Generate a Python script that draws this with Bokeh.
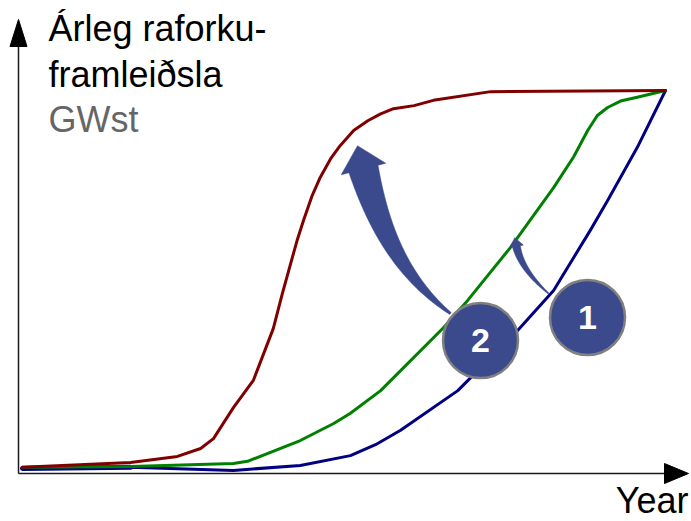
import numpy as np
from bokeh.plotting import figure
from bokeh.models import Range1d
from bokeh.core.properties import value
from bokeh.embed import file_html
from bokeh.resources import INLINE

# ---------------- data (schematic: year 0..100, production 0..100 %) ----------------
red_year = [0, 16.8, 24.1, 27.7, 29.7, 32.8, 35.9, 39.0, 40.4, 41.7, 42.7, 43.7, 45.05, 46.3,
            47.9, 49.4, 51.5, 53.7, 55.7, 57.7, 60.9, 63.9, 72.8, 100]
red_gwst = [0.3, 1.6, 3.2, 5.3, 7.9, 16.1, 23.3, 37.0, 46.2, 54.2, 60.3, 65.6, 72.2, 77.0,
            81.9, 85.4, 89.4, 92.0, 93.8, 95.2, 96.0, 97.4, 99.7, 100]

green_year = [0, 16.8, 32.8, 35.0, 43.2, 48.4, 51.0, 55.7, 65.5, 69.2, 75.9, 82.6, 85.7,
              87.9, 89.4, 91.0, 93.0, 95.6, 100]
green_gwst = [0.3, 0.5, 1.3, 1.9, 7.4, 11.9, 14.6, 20.6, 37.3, 44.4, 58.5, 74.3, 82.4,
              89.4, 93.4, 95.5, 97.2, 98.2, 100]

blue_year = [0, 16.8, 32.8, 43.2, 51.0, 54.9, 58.8, 67.7, 77.0, 82.6, 88.3, 91.0, 95.6, 100]
blue_gwst = [0, 0.3, -0.5, 0.8, 3.4, 6.3, 10.1, 20.6, 36.5, 47.1, 63.0, 70.9, 84.9, 100]

step_labels = ["1", "2"]
step_year = [87.87, 71.23]
step_gwst = [39.95, 33.86]

title_lines = ["Árleg raforku-", "framleiðsla"]
unit_label = "GWst"
x_label = "Year"

# ---------------- figure ----------------
W, H = 691, 521
SX, SY = 6.43, 3.78               # pixels per data unit
X0 = -22 / SX
X1 = X0 + W / SX
Y1 = 100 + 90 / SY
Y0 = Y1 - H / SY

p = figure(width=W, height=H, x_range=Range1d(X0, X1), y_range=Range1d(Y0, Y1),
           output_backend="svg", toolbar_location=None, min_border=0,
           x_axis_location=None, y_axis_location=None)
p.grid.visible = False
p.outline_line_color = None
p.background_fill_color = "white"
p.border_fill_color = "white"

FONT = value("Liberation Sans")


def px_t(px):
    return X0 + px / SX


def px_v(py):
    return Y1 - py / SY


def to_px(t, v):
    return np.array([t * SX, -v * SY], dtype=float)


def to_data(pts):
    pts = np.asarray(pts, dtype=float)
    return list(pts[:, 0] / SX), list(-pts[:, 1] / SY)


def unit(v):
    v = np.asarray(v, dtype=float)
    return v / np.hypot(*v)


def curved_arrow(start, end, d0, d1, a, b, w0, w1, hw, hl):
    P0 = to_px(*start)
    P3 = to_px(*end)
    d0 = unit(d0)
    d1 = unit(d1)
    P1 = P0 + a * d0
    P2 = P3 - b * d1
    s = np.linspace(0, 1, 80)[:, None]
    B = (1 - s) ** 3 * P0 + 3 * (1 - s) ** 2 * s * P1 + 3 * (1 - s) * s ** 2 * P2 + s ** 3 * P3
    dB = 3 * (1 - s) ** 2 * (P1 - P0) + 6 * (1 - s) * s * (P2 - P1) + 3 * s ** 2 * (P3 - P2)
    dB = dB / np.hypot(dB[:, 0], dB[:, 1])[:, None]
    n = np.stack([-dB[:, 1], dB[:, 0]], axis=1)
    w = (w0 + (w1 - w0) * s)
    left = B + n * w
    right = B - n * w
    ne = n[-1]
    te = dB[-1]
    head = [P3 + ne * hw, P3 + te * hl, P3 - ne * hw]
    poly = np.vstack([left, head, right[::-1]])
    return to_data(poly)


# ---------------- axes with arrow heads ----------------
ax_t = px_t(18)
ax_v = px_v(473)
AX_COL = "#1a1a1a"

p.line([ax_t, px_t(665)], [ax_v, ax_v], line_color=AX_COL, line_width=1.5)
base = to_px(px_t(664), ax_v)
hx, hy = to_data([base + [0, -10], base + [24, 0], base + [0, 10]])
p.patch(hx, hy, fill_color="black", line_color="black", line_width=1)

p.line([ax_t, ax_t], [ax_v, px_v(45)], line_color=AX_COL, line_width=1.5)
base = to_px(ax_t, px_v(46))
vx, vy = to_data([base + [-8.5, 0], base + [0, -27], base + [8.5, 0]])
p.patch(vx, vy, fill_color="black", line_color="black", line_width=1)

# ---------------- curves ----------------
p.line(blue_year[:2], blue_gwst[:2], line_color="#000080", line_width=5, line_cap="round")
p.line(blue_year, blue_gwst, line_color="#000080", line_width=3, line_join="round", line_cap="round")
p.line(green_year, green_gwst, line_color="#008000", line_width=3, line_join="round", line_cap="round")
p.line(red_year, red_gwst, line_color="#800000", line_width=3, line_join="round", line_cap="round")

# ---------------- curved arrows ----------------
ARROW_COL = "#3A4A8D"
ax2, ay2 = curved_arrow((px_t(450), px_v(313)), (px_t(363), px_v(168.5)), (-0.8, -0.6), (-0.25, -0.97),
                        60, 60, 1.2, 15, 23, 24)
p.patch(ax2, ay2, fill_color=ARROW_COL, line_color=ARROW_COL, line_width=0.5)
ax1, ay1 = curved_arrow((px_t(548), px_v(293)), (px_t(516), px_v(246)), (-0.75, -0.66), (-0.2, -0.98),
                        20, 18, 0.6, 4, 7, 9)
p.patch(ax1, ay1, fill_color=ARROW_COL, line_color=ARROW_COL, line_width=0.5)

# ---------------- numbered circles ----------------
p.scatter(step_year, step_gwst, marker="circle", size=75, fill_color=ARROW_COL,
          line_color="#808080", line_width=2.5)
p.text(step_year, step_gwst, text=step_labels, text_color="white",
       text_font=FONT, text_font_style="bold", text_font_size="34px",
       text_align="center", text_baseline="middle")

# ---------------- texts (baseline = y + 0.35 * size with "middle") ----------------
FS = 36
MID = 0.35 * FS
title_t = px_t(48)
p.text([title_t, title_t], [px_v(41 - MID), px_v(87 - MID)], text=title_lines,
       text_color="black", text_font=FONT, text_font_size=f"{FS}px",
       text_align="left", text_baseline="middle")
p.text([title_t], [px_v(132 - MID)], text=[unit_label],
       text_color="#666666", text_font=FONT, text_font_size=f"{FS}px",
       text_align="left", text_baseline="middle")
p.text([px_t(688)], [px_v(513 - MID)], text=[x_label],
       text_color="black", text_font=FONT, text_font_size=f"{FS}px",
       text_align="right", text_baseline="middle")

open("out.html", "w").write(file_html(p, INLINE))
